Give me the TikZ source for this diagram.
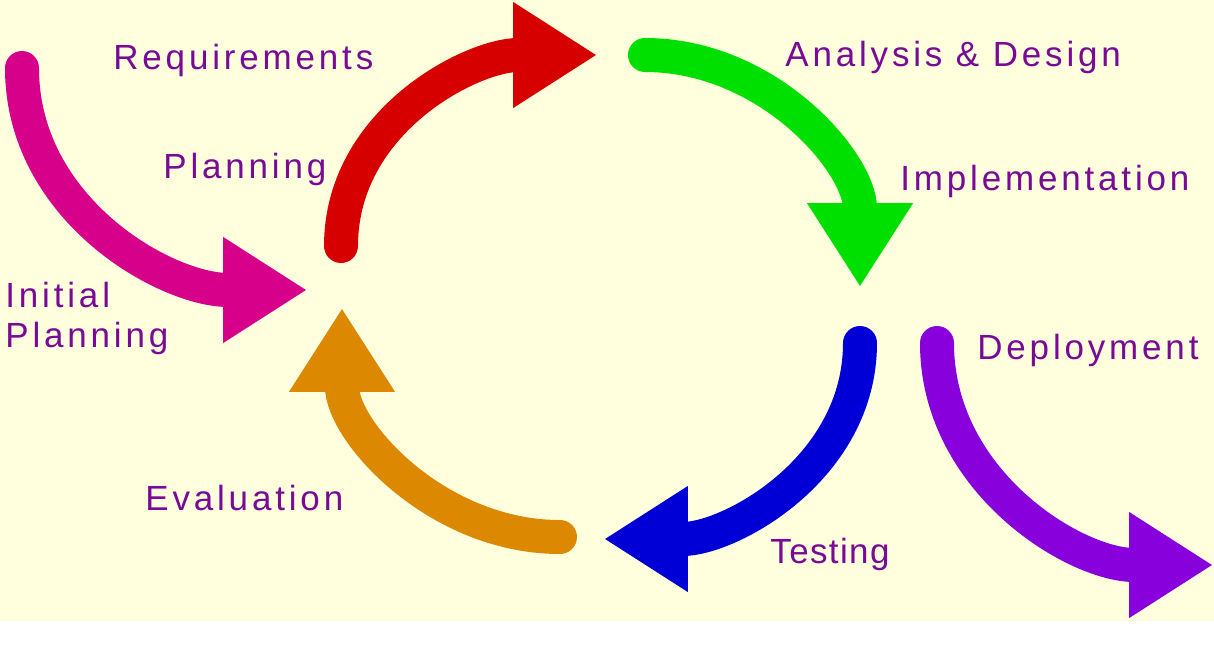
\documentclass[tikz,border=0pt]{standalone}
\usepackage{fontspec}
\setmainfont{Liberation Sans}
\usepackage{tikz}
\usetikzlibrary{arrows.meta}

\definecolor{bgyellow}{RGB}{255,255,222}
\definecolor{lblpurple}{RGB}{120,10,150}
\definecolor{initpink}{RGB}{214,0,138}
\definecolor{reqred}{RGB}{214,0,0}
\definecolor{anagreen}{RGB}{0,224,0}
\definecolor{testblue}{RGB}{0,0,214}
\definecolor{evalorange}{RGB}{220,136,0}
\definecolor{deppurple}{RGB}{136,0,220}

\begin{document}
\begin{tikzpicture}[
  x=0.02cm, y=-0.02cm,
  cycarr/.style={line width=0.68cm, line cap=round, -{Triangle[length=1.68cm, width=2cm]}},
  lbl/.style={font=\fontsize{19.9}{22.8}\selectfont\addfontfeatures{LetterSpace=11}, text=lblpurple, inner sep=0pt, anchor=base west, align=left},
  tightlbl/.style={lbl, font=\fontsize{19.9}{22.8}\selectfont\addfontfeatures{LetterSpace=4}}
]

% page and yellow panel
\fill[white] (0,0) rectangle (1214,653);
\fill[bgyellow] (0,0) rectangle (1214,621);
\useasboundingbox (0,0) rectangle (1214,653);

% arrow ends
\coordinate (initS) at (22,68);
\coordinate (initE) at (307,290);
\coordinate (reqS) at (341,246);
\coordinate (reqE) at (597,55);
\coordinate (anaS) at (645,55);
\coordinate (anaE) at (860,287);
\coordinate (testS) at (860,343);
\coordinate (testE) at (604,539);
\coordinate (evalS) at (560,537);
\coordinate (evalE) at (342,308);
\coordinate (depS) at (937,343);
\coordinate (depE) at (1213,565);

% cycle arrows
\draw[cycarr, initpink] (initS) to[out=-90, in=180] (initE);
\draw[cycarr, reqred] (reqS) to[out=90, in=180] (reqE);
\draw[cycarr, anagreen] (anaS) to[out=0, in=90] (anaE);
\draw[cycarr, testblue] (testS) to[out=-90, in=0] (testE);
\draw[cycarr, evalorange] (evalS) to[out=180, in=-90] (evalE);
\draw[cycarr, deppurple] (depS) to[out=-90, in=180] (depE);

% phase labels
\node[lbl] (req) at (113,69) {Requirements};
\node[lbl] (plan) at (163,178) {Planning};
\node[lbl, anchor=north west] (init) at (5,282) {Initial\\Planning};
\node[lbl] (ana) at (785,66) {Analysis \& Design};
\node[lbl] (impl) at (900,190) {Implementation};
\node[lbl] (dep) at (977,359) {Deployment};
\node[lbl] (eval) at (145,510) {Evaluation};
\node[tightlbl] (test) at (770,563) {Testing};

\end{tikzpicture}
\end{document}
